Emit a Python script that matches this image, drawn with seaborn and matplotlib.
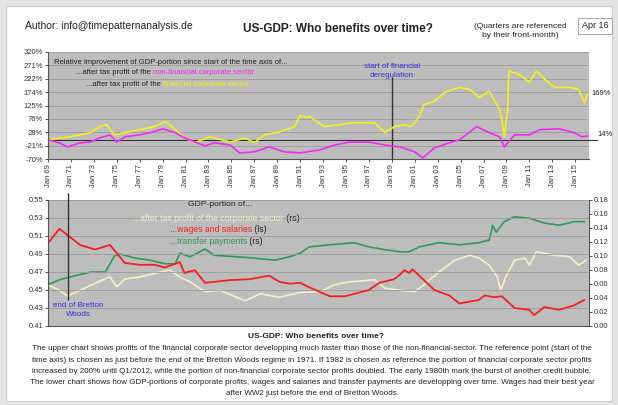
import numpy as np
import matplotlib
matplotlib.use("Agg")
import matplotlib.pyplot as plt
from matplotlib.patches import Rectangle
from matplotlib.ticker import FuncFormatter
import seaborn as sns

# upper chart: relative change of GDP portion (%)
fin_years = [1969.0, 1970.9, 1972.7, 1973.5, 1974.1, 1974.8, 1975.7, 1977.0, 1978.3, 1979.2,
             1979.6, 1980.9, 1981.8, 1983.1, 1984.9, 1986.2, 1987.0, 1987.9, 1989.2, 1990.5,
             1991.0, 1991.6, 1991.8, 1993.1, 1994.4, 1995.7, 1997.5, 1998.4, 1999.2, 2000.1,
             2000.7, 2001.4, 2001.8, 2002.7, 2003.6, 2004.9, 2005.8, 2006.6, 2007.5, 2008.4,
             2008.6, 2008.8, 2009.1, 2009.2, 2010.1, 2011.0, 2011.6, 2012.3, 2013.2, 2014.5,
             2015.3, 2015.8, 2016.1]
fin_vals = [0, 11, 26, 48, 55, 18, 26, 37, 48, 66,
            55, 7, -11, 11, -8, 7, -11, 18, 29, 48,
            88, 81, 85, 48, 55, 62, 62, 26, 48, 55,
            48, 85, 129, 140, 173, 191, 184, 154, 177, 110,
            73, 11, 110, 250, 239, 210, 250, 221, 191, 191,
            184, 136, 169]

nonfin_years = [1969.0, 1970.0, 1970.7, 1971.8, 1972.7, 1973.5, 1974.4, 1975.0, 1975.7, 1977.0,
                1977.9, 1979.0, 1980.1, 1980.9, 1981.8, 1982.7, 1983.5, 1984.9, 1985.7, 1987.0,
                1988.3, 1989.6, 1991.0, 1992.7, 1994.0, 1995.3, 1997.0, 1998.4, 1999.7, 2001.0,
                2001.7, 2002.7, 2004.0, 2004.9, 2005.8, 2006.4, 2007.5, 2008.4, 2008.8, 2009.7,
                2011.0, 2011.9, 2013.6, 2014.9, 2015.6, 2016.1]
nonfin_vals = [0, -11, -26, -11, -8, 7, 18, -8, 11, 18,
               26, 40, 26, 7, -8, -22, -11, -19, -48, -44,
               -26, -44, -48, -37, -19, -8, -8, -19, -26, -44,
               -66, -30, -11, 0, 29, 48, 26, 11, -26, 18,
               18, 37, 40, 26, 11, 14]

# lower chart: GDP portions
wage_years = [1969.0, 1970.0, 1970.9, 1971.8, 1973.1, 1974.4, 1975.0, 1975.7, 1977.0, 1978.3,
              1979.2, 1980.5, 1980.9, 1981.8, 1982.7, 1983.5, 1984.9, 1986.6, 1988.3, 1989.2,
              1990.1, 1991.0, 1991.8, 1993.6, 1994.9, 1997.0, 1997.9, 1999.2, 1999.7, 2000.1,
              2000.5, 2000.8, 2001.8, 2002.7, 2004.0, 2004.9, 2006.6, 2007.1, 2007.9, 2008.6,
              2009.7, 2011.0, 2011.4, 2012.3, 2013.6, 2014.9, 2015.8]
wage_vals = [0.502, 0.518, 0.509, 0.500, 0.495, 0.500, 0.491, 0.480, 0.478, 0.478,
             0.475, 0.481, 0.469, 0.472, 0.458, 0.459, 0.461, 0.462, 0.466, 0.459,
             0.457, 0.458, 0.453, 0.443, 0.443, 0.450, 0.458, 0.462, 0.467, 0.472,
             0.469, 0.473, 0.461, 0.450, 0.444, 0.435, 0.439, 0.444, 0.442, 0.443,
             0.430, 0.428, 0.422, 0.431, 0.428, 0.433, 0.439]

transfer_years = [1969.0, 1970.0, 1970.9, 1972.7, 1974.0, 1974.8, 1975.3, 1976.6, 1977.9, 1979.2,
                  1980.1, 1980.5, 1981.4, 1982.7, 1983.5, 1985.3, 1987.0, 1988.8, 1990.1, 1991.0,
                  1991.8, 1993.6, 1995.7, 1997.0, 1998.4, 1999.7, 2000.5, 2001.4, 2003.1, 2004.9,
                  2006.6, 2007.5, 2007.8, 2008.1, 2008.8, 2009.7, 2011.0, 2012.3, 2013.6, 2014.9,
                  2015.8]
transfer_vals = [0.059, 0.066, 0.070, 0.077, 0.077, 0.100, 0.103, 0.097, 0.094, 0.089,
                 0.089, 0.104, 0.099, 0.110, 0.101, 0.099, 0.097, 0.094, 0.099, 0.104,
                 0.113, 0.116, 0.119, 0.113, 0.109, 0.106, 0.106, 0.113, 0.119, 0.116,
                 0.119, 0.123, 0.144, 0.134, 0.149, 0.156, 0.154, 0.147, 0.144, 0.149,
                 0.149]

profit_years = [1969.0, 1970.0, 1970.7, 1971.8, 1973.1, 1974.4, 1975.0, 1975.7, 1977.0, 1978.8,
                1979.6, 1980.5, 1981.4, 1982.7, 1984.0, 1986.2, 1987.5, 1989.2, 1991.0, 1992.7,
                1994.0, 1995.3, 1997.5, 1998.4, 1999.7, 2001.0, 2001.8, 2003.1, 2004.5, 2005.8,
                2006.6, 2007.5, 2008.2, 2008.5, 2008.9, 2009.7, 2010.6, 2011.0, 2011.6, 2013.2,
                2014.5, 2015.3, 2016.0]
profit_vals = [0.059, 0.051, 0.043, 0.051, 0.061, 0.070, 0.056, 0.067, 0.070, 0.077,
               0.080, 0.070, 0.063, 0.049, 0.051, 0.036, 0.046, 0.041, 0.048, 0.049,
               0.059, 0.063, 0.066, 0.054, 0.051, 0.049, 0.059, 0.077, 0.094, 0.101,
               0.097, 0.087, 0.070, 0.051, 0.069, 0.094, 0.097, 0.087, 0.106, 0.101,
               0.099, 0.087, 0.094]

tick_years = list(range(1969, 2016, 2))
tick_labels = [f"Jan {y % 100:02d}" for y in tick_years]

paragraph = [
    "The upper chart shows profits of the financial corporate sector developping much faster than those of the non-financial-sector. The reference point (start of the",
    "time axis) is chosen as just before the end of the Bretton Woods regime in 1971. If 1982 is chosen as reference the portion of financial corporate sector profits",
    "increased by 200% until Q1/2012, while the portion of non-financial corporate sector profits doubled. The early 1980th mark the burst of another credit bubble.",
    "The lower chart shows how GDP-portions of corporate profits, wages and salaries and transfer payments are developping over time. Wages had their best year",
    "after WW2 just before the end of Bretton Woods.",
]

C_FIN, C_NONFIN = "#f2f21a", "#f02cf0"
C_WAGE, C_TRANS, C_PROF = "#f22020", "#2e9a5a", "#f4efc4"
BG = "#bdbdbd"
DARK = "#222222"
BLUE = "#3030e0"

sns.set_style("ticks", {"axes.facecolor": BG, "axes.edgecolor": "#555555"})
plt.rcParams["font.family"] = ["Liberation Sans", "DejaVu Sans"]

W, H = 618, 405
fig = plt.figure(figsize=(W / 100, H / 100), dpi=100)
fig.patch.set_facecolor("#e4e4e4")
fig.patches.append(Rectangle((6 / W, 4 / H), 606 / W, 395 / H, transform=fig.transFigure,
                             facecolor="white", edgecolor="#d0d0d0", lw=1, zorder=-10))


def fx(px):
    return px / W


def fy(py):
    return 1 - py / H


def multicolor(x, y, parts, size=5):
    # text pieces of different colours, placed one after the other
    prev = fig.text(fx(x), fy(y), parts[0][0], color=parts[0][1], fontsize=size, va="center")
    for s, c in parts[1:]:
        prev = fig.axes[0].annotate(s, xy=(1, 0), xycoords=prev, color=c, fontsize=size,
                                    va="bottom", ha="left", annotation_clip=False)
    return prev


x_lim = (1969, 2016.2)

# 1. upper chart
ax = fig.add_axes([fx(48), fy(159), 541 / W, 107 / H])
sns.lineplot(x=fin_years, y=fin_vals, ax=ax, color=C_FIN, lw=1.2, legend=False)
sns.lineplot(x=nonfin_years, y=nonfin_vals, ax=ax, color=C_NONFIN, lw=1.2, legend=False)
ax.axhline(0, xmax=1.015, color="#333333", lw=0.8, clip_on=False, zorder=1)
ax.vlines(1999.0, -70, 228, color="#333333", lw=1.0, zorder=1)
ax.set_xlim(*x_lim)
ax.set_ylim(-70, 320)
ax.set_yticks(np.linspace(-70, 320, 9))
ax.yaxis.set_major_formatter(FuncFormatter(lambda v, p: f"{v:.0f}%"))
ax.set_xticks(tick_years)
ax.set_xticklabels(tick_labels, rotation=90)
ax.tick_params(labelsize=5.5, length=2, width=0.6, pad=1.5, colors="#333333")
ax.grid(axis="y", color="#9c9c9c", lw=0.6)
for s in ("top", "right"):
    ax.spines[s].set_visible(False)

ax.text(1.005, 169, "169%", transform=ax.get_yaxis_transform(), fontsize=5.5, color=DARK, va="center")
ax.text(1.015, 18, "14%", transform=ax.get_yaxis_transform(), fontsize=5.5, color=DARK, va="center")
ax.text(1999.0, 250, "start of financial\nderegulation", ha="center", va="center",
        fontsize=5.8, color=BLUE, linespacing=1.4)

multicolor(54, 62, [("Relative improvement of GDP-portion since start of the time axis of...", DARK)], 5.5)
multicolor(76, 73, [("...after tax profit of the ", DARK), ("non-financial corporate sector", C_NONFIN)], 5.5)
multicolor(86, 85, [("...after tax profit of the ", DARK), ("financial corporate sector", C_FIN)], 5.5)

# 2. lower chart (wages on the left scale, profits and transfers on the right)
axl = fig.add_axes([fx(48), fy(326), 541 / W, 126 / H])
axr = axl.twinx()
sns.lineplot(x=profit_years, y=profit_vals, ax=axr, color=C_PROF, lw=1.2, legend=False)
sns.lineplot(x=transfer_years, y=transfer_vals, ax=axr, color=C_TRANS, lw=1.2, legend=False)
sns.lineplot(x=wage_years, y=wage_vals, ax=axl, color=C_WAGE, lw=1.3, legend=False)
axr.set_zorder(axl.get_zorder() - 1)
axl.patch.set_visible(False)
axr.patch.set_visible(True)
axr.patch.set_facecolor(BG)
axl.vlines(1970.75, 0.439, 0.558, color="#333333", lw=1.0, clip_on=False, zorder=5)

axl.set_xlim(*x_lim)
axl.set_ylim(0.41, 0.55)
axl.set_yticks(np.arange(0.41, 0.551, 0.02))
axl.yaxis.set_major_formatter(FuncFormatter(lambda v, p: f"{v:.2f}"))
axr.set_ylim(0.0, 0.18)
axr.set_yticks(np.arange(0.0, 0.181, 0.02))
axr.yaxis.set_major_formatter(FuncFormatter(lambda v, p: f"{v:.2f}"))
axl.set_xticks(tick_years)
axl.set_xticklabels([])
axl.tick_params(axis="x", length=0)
axl.tick_params(axis="y", labelsize=5.5, length=2, width=0.6, pad=1.5, colors="#333333")
axr.tick_params(axis="y", labelsize=5.5, length=2, width=0.6, pad=1.5, colors="#333333")
axr.grid(False)
axl.grid(axis="y", color="#9c9c9c", lw=0.6)
for a in (axl, axr):
    a.spines["top"].set_visible(False)
axl.spines["right"].set_visible(False)
axr.spines["left"].set_visible(False)
axr.spines["bottom"].set_visible(False)

fig.text(fx(220), fy(205), "GDP-portion of...", fontsize=6.1, color=DARK, ha="center", va="center")
multicolor(133, 218, [("...after tax profit of the corporate sector", C_PROF), (" (rs)", DARK)], 6.3)
multicolor(170, 229, [("...wages and salaries", C_WAGE), (" (ls)", DARK)], 6.3)
multicolor(170, 241, [("...transfer payments", C_TRANS), (" (rs)", DARK)], 6.3)
fig.text(fx(78), fy(310), "end of Bretton\nWoods", fontsize=5.8, color=BLUE, ha="center", va="center",
         linespacing=1.4)

# 3. header
fig.text(fx(25), fy(26), "Author: info@timepatternanalysis.de", fontsize=7.5, color=DARK, va="center")
fig.text(fx(338), fy(29), "US-GDP: Who benefits over time?", fontsize=8.5, fontweight="bold",
         color=DARK, ha="center", va="center")
fig.text(fx(520), fy(31), "(Quarters are referenced\nby their front-month)", fontsize=6,
         color=DARK, ha="center", va="center", linespacing=1.3)
fig.text(fx(595), fy(26), "Apr 16", fontsize=6.5, color=DARK, ha="center", va="center",
         bbox=dict(boxstyle="square,pad=0.4", fc="white", ec="#999999", lw=0.6))

# 4. footer
fig.text(fx(316), fy(337), "US-GDP: Who benefits over time?", fontsize=6, fontweight="bold",
         color=DARK, ha="center", va="center")
for i, line in enumerate(paragraph):
    fig.text(fx(312), fy(349 + i * 11.2), line, fontsize=5.8, color=DARK, ha="center", va="center")

fig.savefig("out.png", dpi=100, facecolor=fig.get_facecolor())
